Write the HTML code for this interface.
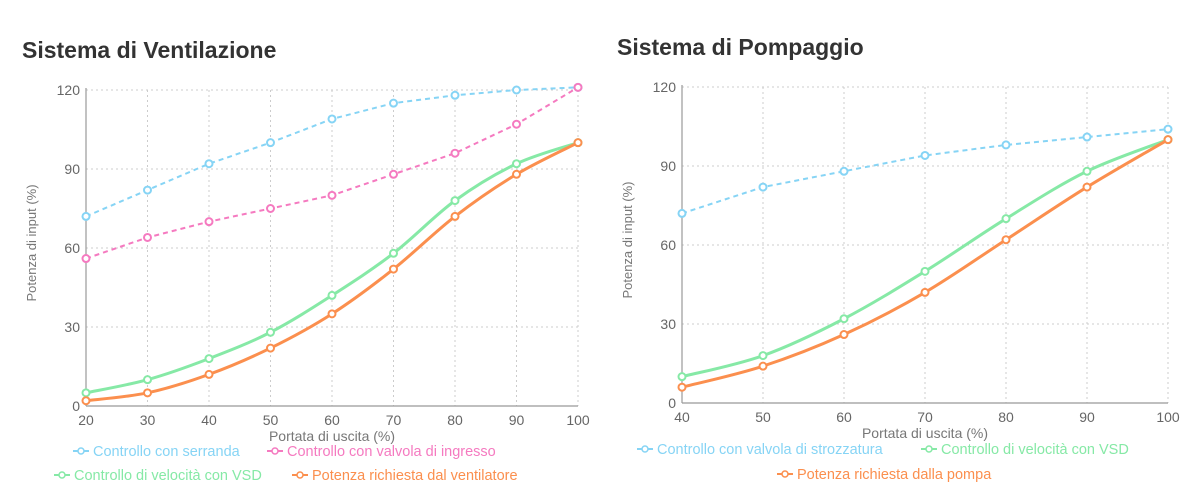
<!DOCTYPE html>
<html><head><meta charset="utf-8"><style>
body{margin:0;background:#fff;width:1200px;height:500px;overflow:hidden;font-family:"Liberation Sans",sans-serif}
svg{position:absolute;left:0;top:0}
</style></head><body>
<svg id="s" width="1200" height="500" xmlns="http://www.w3.org/2000/svg">
<text x="22" y="58" font-size="23" font-weight="bold" fill="#333">Sistema di Ventilazione</text>
<text x="617" y="55" font-size="23" font-weight="bold" fill="#333">Sistema di Pompaggio</text>
</svg>
<script>
const S=document.getElementById('s');const NS='http://www.w3.org/2000/svg';
function el(t,a,txt){const e=document.createElementNS(NS,t);for(const k in a)e.setAttribute(k,a[k]);if(txt!=null)e.textContent=txt;S.appendChild(e);return e;}
const C={b:'#86d4f5',p:'#f57ac0',g:'#86e9a6',o:'#fb8f4e'};
function chart(o){
 const X=v=>o.x0+(v-o.xs[0])/(o.xs[o.xs.length-1]-o.xs[0])*(o.x1-o.x0);
 const Y=v=>o.y0-v/120*(o.y0-o.y1);
 [0,30,60,90,120].forEach(v=>{if(v>0)el('line',{x1:o.x0,x2:o.x1,y1:Y(v),y2:Y(v),stroke:'#ccc','stroke-dasharray':'2,3'});
  el('text',{x:o.x0-6,y:Y(v)+5,'font-size':14,fill:'#666','text-anchor':'end'},v);});
 o.xs.forEach((v,i)=>{if(i>0)el('line',{x1:X(v),x2:X(v),y1:o.y1,y2:o.y0,stroke:'#ccc','stroke-dasharray':'2,3'});
  el('text',{x:X(v),y:o.y0+19,'font-size':14,fill:'#666','text-anchor':'middle'},v);});
 el('line',{x1:o.x0,x2:o.x0,y1:o.y1-2,y2:o.y0,stroke:'#999','stroke-width':1.2});
 el('line',{x1:o.x0,x2:o.x1,y1:o.y0,y2:o.y0,stroke:'#999','stroke-width':1.2});
 el('text',{x:(o.x0+o.x1)/2,y:o.y0+35,'font-size':14,fill:'#777','text-anchor':'middle'},'Portata di uscita (%)');
 const yx=o.x0-50,yc=(o.y0+o.y1)/2-5;
 el('text',{x:yx,y:yc,'font-size':13,fill:'#777','text-anchor':'middle',transform:`rotate(-90 ${yx} ${yc})`},'Potenza di input (%)');
 o.series.forEach(s=>{
  const P=s.d.map((v,i)=>[X(o.xs[i]),Y(v)]);let d='M'+P[0];
  if(s.dash){for(let i=1;i<P.length;i++)d+='L'+P[i];}
  else{for(let i=0;i<P.length-1;i++){const p0=P[i-1]||P[i],p1=P[i],p2=P[i+1],p3=P[i+2]||p2;
   d+=`C${p1[0]+(p2[0]-p0[0])/6},${p1[1]+(p2[1]-p0[1])/6} ${p2[0]-(p3[0]-p1[0])/6},${p2[1]-(p3[1]-p1[1])/6} ${p2[0]},${p2[1]}`;}}
  el('path',{d,fill:'none',stroke:C[s.c],'stroke-width':s.dash?2:3,'stroke-dasharray':s.dash?'5,4':'none'});
  P.forEach(p=>el('circle',{cx:p[0],cy:p[1],r:3.5,fill:'#fff',stroke:C[s.c],'stroke-width':2}));
 });
 o.leg.forEach(l=>{el('line',{x1:l[0]-8,x2:l[0]+8,y1:l[1]-4,y2:l[1]-4,stroke:C[l[2]],'stroke-width':2});
  el('circle',{cx:l[0],cy:l[1]-4,r:3,fill:'#fff',stroke:C[l[2]],'stroke-width':1.5});
  el('text',{x:l[0]+12,y:l[1]+1,'font-size':14.5,fill:C[l[2]]},l[3]);});
}
chart({x0:86,x1:578,y0:406,y1:90,xs:[20,30,40,50,60,70,80,90,100],
 series:[{c:'b',dash:1,d:[72,82,92,100,109,115,118,120,121]},{c:'p',dash:1,d:[56,64,70,75,80,88,96,107,121]},
 {c:'g',d:[5,10,18,28,42,58,78,92,100]},{c:'o',d:[2,5,12,22,35,52,72,88,100]}],
 leg:[[81,455,'b','Controllo con serranda'],[275,455,'p','Controllo con valvola di ingresso'],[62,479,'g','Controllo di velocità con VSD'],[300,479,'o','Potenza richiesta dal ventilatore']]});
chart({x0:682,x1:1168,y0:403,y1:87,xs:[40,50,60,70,80,90,100],
 series:[{c:'b',dash:1,d:[72,82,88,94,98,101,104]},{c:'g',d:[10,18,32,50,70,88,100]},{c:'o',d:[6,14,26,42,62,82,100]}],
 leg:[[645,453,'b','Controllo con valvola di strozzatura'],[929,453,'g','Controllo di velocità con VSD'],[785,478,'o','Potenza richiesta dalla pompa']]});
</script>
</body></html>
